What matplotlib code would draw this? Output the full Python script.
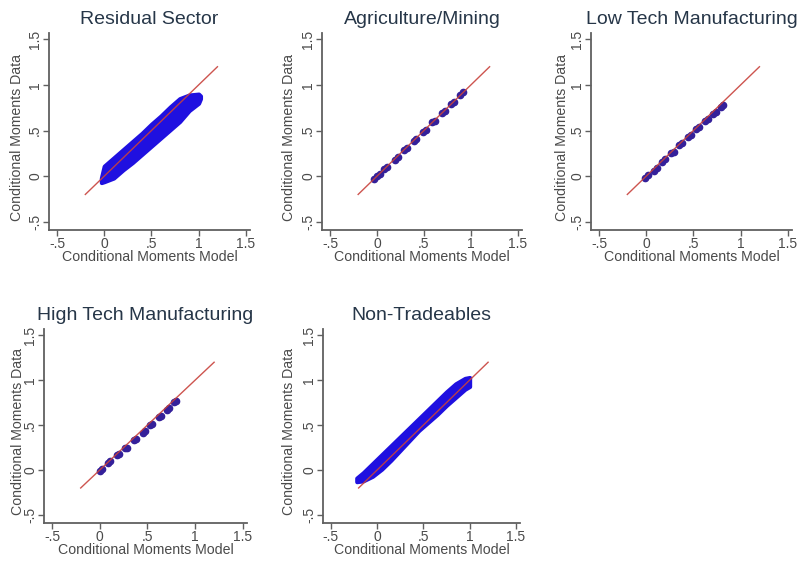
import matplotlib
matplotlib.use("Agg")
import matplotlib.pyplot as plt

plt.rcParams['font.family'] = ['Liberation Sans', 'DejaVu Sans']

# panel titles
titles = ["Residual Sector", "Agriculture/Mining", "Low Tech Manufacturing",
          "High Tech Manufacturing", "Non-Tradeables"]

# 45 degree reference line
line_x = [-0.2, 1.2]
line_y = [-0.2, 1.2]

# Residual Sector cloud (band)
res_x = [-0.03, 0.0, 0.1, 0.2, 0.3, 0.4, 0.5, 0.6, 0.7, 0.8, 0.9, 1.0, 1.02]
res_upper = [-0.02, 0.11, 0.20, 0.29, 0.38, 0.47, 0.57, 0.66, 0.76, 0.85, 0.89, 0.90, 0.88]
res_lower = [-0.07, -0.06, -0.02, 0.07, 0.15, 0.24, 0.33, 0.42, 0.51, 0.60, 0.72, 0.80, 0.85]

# Non-Tradeables cloud
nt_x = [-0.22, -0.15, -0.05, 0.05, 0.15, 0.25, 0.35, 0.45, 0.55, 0.65, 0.75, 0.85, 0.95, 1.0]
nt_upper = [-0.09, -0.03, 0.07, 0.17, 0.27, 0.37, 0.47, 0.57, 0.67, 0.77, 0.87, 0.96, 1.02, 1.03]
nt_lower = [-0.13, -0.12, -0.07, 0.01, 0.11, 0.22, 0.33, 0.44, 0.53, 0.62, 0.72, 0.81, 0.90, 0.93]

# Agriculture/Mining points
agr_x = [-0.03, 0.0, 0.03, 0.08, 0.11, 0.19, 0.22, 0.29, 0.32, 0.39, 0.42,
         0.49, 0.52, 0.59, 0.62, 0.69, 0.72, 0.79, 0.82, 0.89, 0.92]
agr_y = [-0.03, 0.0, 0.02, 0.08, 0.10, 0.18, 0.21, 0.29, 0.31, 0.39, 0.41,
         0.49, 0.51, 0.59, 0.61, 0.69, 0.71, 0.79, 0.81, 0.89, 0.92]

# Low Tech Manufacturing points
lt_x = [-0.01, 0.02, 0.08, 0.11, 0.17, 0.20, 0.26, 0.29, 0.35, 0.38,
        0.44, 0.47, 0.53, 0.56, 0.62, 0.65, 0.71, 0.74, 0.79, 0.81]
lt_y = [-0.02, 0.01, 0.06, 0.09, 0.16, 0.19, 0.25, 0.27, 0.34, 0.36,
        0.43, 0.45, 0.52, 0.54, 0.61, 0.63, 0.68, 0.70, 0.76, 0.78]

# High Tech Manufacturing points
ht_x = [0.0, 0.02, 0.09, 0.11, 0.18, 0.20, 0.27, 0.29, 0.36, 0.38,
        0.45, 0.47, 0.53, 0.55, 0.62, 0.64, 0.71, 0.73, 0.78, 0.80]
ht_y = [-0.01, 0.01, 0.08, 0.10, 0.17, 0.18, 0.24, 0.25, 0.33, 0.34,
        0.41, 0.43, 0.50, 0.51, 0.59, 0.60, 0.67, 0.69, 0.76, 0.77]

ticks = [-0.5, 0, 0.5, 1, 1.5]
tick_labels = ["-.5", "0", ".5", "1", "1.5"]

BLUE = "#1f10e0"
DOT = "#34209a"
RED = "#c8423c"
AXIS = "#606060"
TEXT = "#4a4a4a"
TITLE = "#263648"

W, H = 803.0, 562.0
# axes boxes in pixels: left, top, width, height, ylabel x offset
boxes = [
    (49, 33, 201, 197, -0.122),
    (322, 33, 200, 197, -0.128),
    (591, 33, 201, 197, -0.108),
    (44, 329, 203, 194, -0.095),
    (323, 329, 197, 194, -0.135),
]


def make_axes(fig, box, title):
    left, top, w, h, ylab = box
    ax = fig.add_axes([left / W, (H - top - h) / H, w / W, h / H])
    ax.set_xlim(-0.585, 1.545)
    ax.set_ylim(-0.59, 1.57)
    for s in ["top", "right"]:
        ax.spines[s].set_visible(False)
    for s in ["left", "bottom"]:
        ax.spines[s].set_color(AXIS)
        ax.spines[s].set_linewidth(1.3)
    ax.set_xticks(ticks)
    ax.set_xticklabels(tick_labels)
    ax.set_yticks(ticks)
    ax.set_yticklabels(tick_labels, rotation=90, va="center")
    ax.tick_params(direction="out", length=4, width=1, color=AXIS,
                   labelcolor=TEXT, labelsize=10, pad=1)
    ax.set_xlabel("Conditional Moments Model", fontsize=10.2, color=TEXT)
    ax.xaxis.set_label_coords(0.5, -20.0 / h)
    ax.set_ylabel("Conditional Moments Data", fontsize=10.2, color=TEXT)
    ax.yaxis.set_label_coords(ylab, 0.47)
    ax.text(0.5, 1.0 + 14.0 / h, title, transform=ax.transAxes,
            ha="center", va="center", fontsize=14, color=TITLE)
    return ax


def draw_cloud(ax, x, lower, upper):
    ax.fill_between(x, lower, upper, color=BLUE, edgecolor=BLUE,
                    linewidth=3, capstyle="round", joinstyle="round", zorder=2)


def draw_points(ax, x, y):
    ax.plot(x, y, linestyle="none", marker="o", markersize=4.5,
            color=DOT, zorder=2)


def draw_line(ax):
    ax.plot(line_x, line_y, color=RED, linewidth=1, zorder=3, alpha=0.9)


def Main():
    fig = plt.figure(figsize=(W / 100, H / 100), dpi=100)
    axes = [make_axes(fig, b, t) for b, t in zip(boxes, titles)]

    draw_cloud(axes[0], res_x, res_lower, res_upper)
    draw_points(axes[1], agr_x, agr_y)
    draw_points(axes[2], lt_x, lt_y)
    draw_points(axes[3], ht_x, ht_y)
    draw_cloud(axes[4], nt_x, nt_lower, nt_upper)

    for ax in axes:
        draw_line(ax)

    fig.savefig("out.png", dpi=100, facecolor="white")


if __name__ == "__main__":
    Main()
